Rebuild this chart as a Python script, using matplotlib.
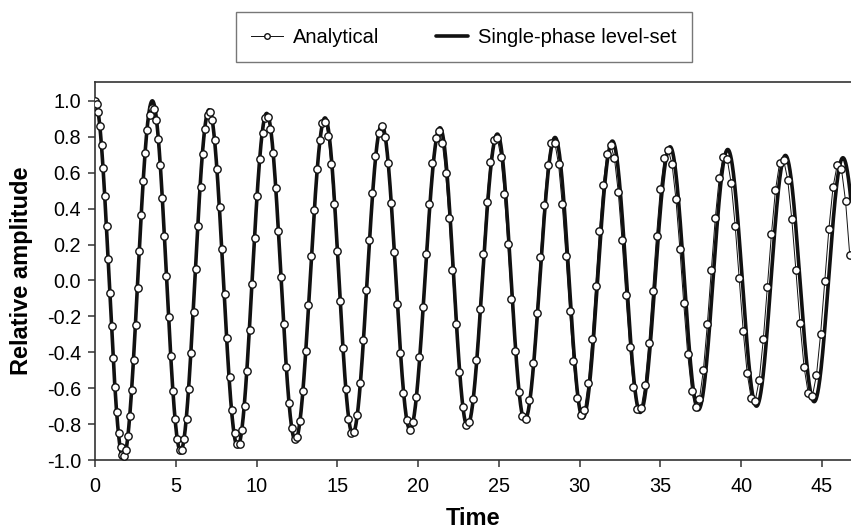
import matplotlib
matplotlib.use("Agg")
import matplotlib.pyplot as plt
import numpy as np

plt.rcParams['font.family'] = ['Liberation Sans', 'DejaVu Sans']

# extrema (time, relative amplitude)
ls_peak_t = [0.0, 3.55, 7.06, 10.63, 14.24, 17.75, 21.36, 24.91, 28.48, 32.03, 35.6, 39.17, 42.74, 46.3]
ls_peak_v = [1.0, 1.0, 0.95, 0.93, 0.905, 0.865, 0.85, 0.815, 0.796, 0.776, 0.744, 0.729, 0.696, 0.683]
ls_trough_t = [1.75, 5.3, 8.83, 12.4, 15.95, 19.5, 23.05, 26.6, 30.2, 33.75, 37.35, 40.95, 44.52, 48.1]
ls_trough_v = [-0.99, -0.95, -0.925, -0.89, -0.855, -0.83, -0.81, -0.78, -0.765, -0.735, -0.72, -0.70, -0.675, -0.66]

an_peak_t = [0.0, 3.54, 7.09, 10.63, 14.18, 17.72, 21.27, 24.81, 28.36, 31.9, 35.45, 38.99, 42.54, 46.05]
an_peak_v = [1.0, 0.965, 0.94, 0.915, 0.89, 0.86, 0.835, 0.805, 0.78, 0.755, 0.73, 0.70, 0.68, 0.655]
an_trough_t = [1.77, 5.32, 8.86, 12.41, 15.95, 19.5, 23.04, 26.59, 30.13, 33.68, 37.22, 40.77, 44.31, 47.6]
an_trough_v = [-0.98, -0.95, -0.92, -0.89, -0.86, -0.835, -0.81, -0.78, -0.755, -0.73, -0.705, -0.68, -0.655, -0.64]

# spacing of the analytical markers along the time axis
marker_dt_t = [0, 5, 15, 25, 35, 47]
marker_dt = [0.1, 0.14, 0.18, 0.22, 0.24, 0.26]

x_ticks = [0, 5, 10, 15, 20, 25, 30, 35, 40, 45]
y_ticks = [-1.0, -0.8, -0.6, -0.4, -0.2, 0.0, 0.2, 0.4, 0.6, 0.8, 1.0]
t_max = 46.8


def half_waves(pk_t, pk_v, tr_t, tr_v, t):
    # join alternating extrema with half cosine arcs
    et = np.ravel(np.column_stack([pk_t, tr_t]))
    ev = np.ravel(np.column_stack([pk_v, tr_v]))
    i = np.clip(np.searchsorted(et, t, side='right') - 1, 0, len(et) - 2)
    f = (t - et[i]) / (et[i + 1] - et[i])
    return (ev[i] + ev[i + 1]) / 2 + (ev[i] - ev[i + 1]) / 2 * np.cos(np.pi * f)


t_line = np.linspace(0, t_max, 4000)
y_ls = half_waves(ls_peak_t, ls_peak_v, ls_trough_t, ls_trough_v, t_line)

t_mk = [0.0]
while t_mk[-1] < t_max:
    t_mk.append(t_mk[-1] + np.interp(t_mk[-1], marker_dt_t, marker_dt))
t_mk = np.array(t_mk[:-1])
y_an = half_waves(an_peak_t, an_peak_v, an_trough_t, an_trough_v, t_mk)

fig = plt.figure(figsize=(8.51, 5.30), dpi=100)
ax = fig.add_axes([0.1116, 0.132, 0.8884, 0.713])

ax.plot(t_line, y_ls, color='#111111', lw=2.6, zorder=2, label='Single-phase level-set',
        solid_capstyle='round')
ax.plot(t_mk, y_an, color='#111111', lw=0.7, marker='o', ms=5.3, mfc='white', mec='#111111',
        mew=1.0, zorder=3, label='Analytical', clip_on=True)

ax.set_xlim(0, t_max)
ax.set_ylim(-1.0, 1.104)
ax.set_xticks(x_ticks)
ax.set_yticks(y_ticks)
ax.set_yticklabels(['%.1f' % v for v in y_ticks])
ax.tick_params(direction='out', length=5, width=1.1, color='#333333', labelsize=14.3)
ax.tick_params(axis='x', pad=7)
ax.tick_params(axis='y', pad=5)

for s in ['left', 'bottom', 'top']:
    ax.spines[s].set_color('#333333')
    ax.spines[s].set_linewidth(1.2)
ax.spines['right'].set_visible(False)

ax.set_xlabel('Time', fontsize=17, fontweight='bold', labelpad=8)
ax.set_ylabel('Relative amplitude', fontsize=17, fontweight='bold', labelpad=10)

h, l = ax.get_legend_handles_labels()
leg = fig.legend(h[::-1], l[::-1], loc='center', bbox_to_anchor=(0.5447, 0.93), ncol=2,
                 fontsize=14.5, frameon=True, fancybox=False, edgecolor='#555555',
                 handlelength=1.6, columnspacing=2.8, borderpad=0.75, handletextpad=0.5)
leg.get_frame().set_linewidth(1.0)
leg.legend_handles[0].set_markersize(4)

fig.savefig('out.png', dpi=100)
